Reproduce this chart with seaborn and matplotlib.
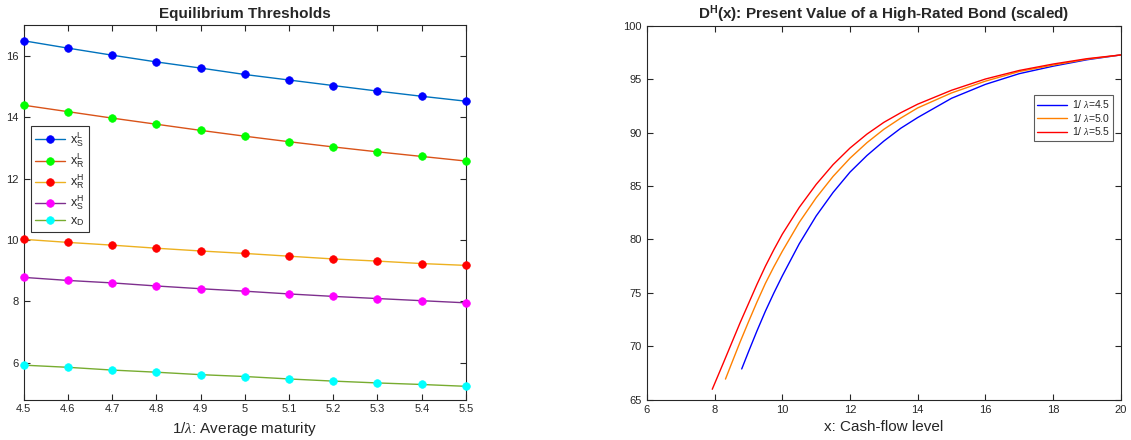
import numpy as np
import pandas as pd
import matplotlib
matplotlib.use("Agg")
import matplotlib.pyplot as plt
import seaborn as sns

# ---------------- data: left panel ----------------
maturity = [4.5, 4.6, 4.7, 4.8, 4.9, 5.0, 5.1, 5.2, 5.3, 5.4, 5.5]
x_S_L = [16.49, 16.25, 16.02, 15.80, 15.60, 15.39, 15.21, 15.03, 14.85, 14.68, 14.52]
x_R_L = [14.39, 14.18, 13.97, 13.77, 13.57, 13.38, 13.20, 13.03, 12.87, 12.72, 12.57]
x_R_H = [10.02, 9.92, 9.83, 9.73, 9.64, 9.56, 9.47, 9.38, 9.31, 9.23, 9.17]
x_S_H = [8.78, 8.68, 8.60, 8.50, 8.41, 8.33, 8.24, 8.16, 8.09, 8.02, 7.95]
x_D = [5.92, 5.85, 5.76, 5.69, 5.61, 5.55, 5.47, 5.40, 5.34, 5.29, 5.23]
left_labels = [r"x$_\mathregular{S}^\mathregular{L}$", r"x$_\mathregular{R}^\mathregular{L}$",
               r"x$_\mathregular{R}^\mathregular{H}$", r"x$_\mathregular{S}^\mathregular{H}$",
               r"x$_\mathregular{D}$"]
left_xticks = [4.5, 4.6, 4.7, 4.8, 4.9, 5.0, 5.1, 5.2, 5.3, 5.4, 5.5]
left_xticklabels = ["4.5", "4.6", "4.7", "4.8", "4.9", "5", "5.1", "5.2", "5.3", "5.4", "5.5"]
left_yticks = [6, 8, 10, 12, 14, 16]

# ---------------- data: right panel ----------------
x_45 = [8.80, 9.0, 9.25, 9.5, 9.75, 10.0, 10.5, 11.0, 11.5, 12.0, 12.5, 13.0, 13.5, 14.0, 15.0, 16.0, 17.0, 18.0, 19.0, 20.0]
d_45 = [67.9, 69.5, 71.45, 73.3, 75.0, 76.6, 79.6, 82.2, 84.4, 86.3, 87.85, 89.2, 90.4, 91.4, 93.2, 94.5, 95.5, 96.2, 96.8, 97.25]
x_50 = [8.32, 8.5, 8.75, 9.0, 9.25, 9.5, 9.75, 10.0, 10.5, 11.0, 11.5, 12.0, 12.5, 13.0, 13.5, 14.0, 15.0, 16.0, 17.0, 18.0, 19.0, 20.0]
d_50 = [66.95, 68.4, 70.4, 72.3, 74.15, 75.9, 77.45, 78.9, 81.6, 83.9, 85.9, 87.6, 89.05, 90.3, 91.35, 92.3, 93.7, 94.8, 95.7, 96.3, 96.85, 97.25]
x_55 = [7.93, 8.25, 8.5, 8.75, 9.0, 9.25, 9.5, 9.75, 10.0, 10.5, 11.0, 11.5, 12.0, 12.5, 13.0, 13.5, 14.0, 15.0, 16.0, 17.0, 18.0, 19.0, 20.0]
d_55 = [66.0, 68.4, 70.3, 72.2, 74.0, 75.8, 77.5, 79.05, 80.5, 83.0, 85.15, 87.0, 88.55, 89.85, 90.95, 91.85, 92.65, 93.95, 95.0, 95.8, 96.4, 96.9, 97.25]
right_labels = [r"1/ $\lambda$=4.5", r"1/ $\lambda$=5.0", r"1/ $\lambda$=5.5"]
right_xticks = [6, 8, 10, 12, 14, 16, 18, 20]
right_yticks = [65, 70, 75, 80, 85, 90, 95, 100]

# ---------------- style ----------------
sns.set_style("white")
plt.rcParams["font.family"] = ["Liberation Sans", "DejaVu Sans"]
plt.rcParams["mathtext.fontset"] = "custom"
plt.rcParams["mathtext.rm"] = "Liberation Sans"
plt.rcParams["mathtext.it"] = "Liberation Serif:italic"
plt.rcParams["mathtext.bf"] = "Liberation Sans:bold"

AX_COLOR = "#262626"
fig = plt.figure(figsize=(11.31, 4.40), dpi=100)
ax1 = fig.add_axes([0.0208, 0.092, 0.3912, 0.851])
ax2 = fig.add_axes([0.572, 0.091, 0.419, 0.851])

line_colors = ["#0072BD", "#D95319", "#EDB120", "#7E2F8E", "#77AC30"]
marker_colors = ["#0000FF", "#00FF00", "#FF0000", "#FF00FF", "#00FFFF"]
series = [x_S_L, x_R_L, x_R_H, x_S_H, x_D]
for ys, lc, mc, lab in zip(series, line_colors, marker_colors, left_labels):
    df = pd.DataFrame({"m": maturity, "v": ys})
    sns.lineplot(data=df, x="m", y="v", ax=ax1, color=lc, linewidth=1.0,
                 marker="o", markersize=5.5, markerfacecolor=mc, markeredgecolor=mc,
                 markeredgewidth=0.5, label=lab, legend=False, clip_on=False, zorder=3)

ax1.set_xlim(4.5, 5.5)
ax1.set_ylim(4.8, 17.0)
ax1.set_xticks(left_xticks)
ax1.set_xticklabels(left_xticklabels)
ax1.set_yticks(left_yticks)
ax1.set_title("Equilibrium Thresholds", fontsize=11, fontweight="bold", pad=5)
ax1.set_xlabel(r"1/$\lambda$: Average maturity", fontsize=11, color=AX_COLOR, labelpad=4)
ax1.set_ylabel("")
h1 = ax1.get_lines()
leg1 = ax1.legend(h1, left_labels, loc="upper left", bbox_to_anchor=(0.017, 0.73),
                  borderaxespad=0, fontsize=9, frameon=True, fancybox=False,
                  handlelength=2.4, handletextpad=0.4, labelspacing=0.24,
                  borderpad=0.35, edgecolor="black")
leg1.get_frame().set_linewidth(0.8)

right_colors = ["#0000FF", "#FF8000", "#FF0000"]
for xs, ds, c, lab in zip([x_45, x_50, x_55], [d_45, d_50, d_55], right_colors, right_labels):
    df = pd.DataFrame({"x": xs, "d": ds})
    sns.lineplot(data=df, x="x", y="d", ax=ax2, color=c, linewidth=1.0, label=lab, legend=False)

ax2.set_xlim(6, 20)
ax2.set_ylim(65, 100)
ax2.set_xticks(right_xticks)
ax2.set_yticks(right_yticks)
ax2.set_title(r"$\mathbf{D^H}$(x): Present Value of a High-Rated Bond (scaled)",
              fontsize=11, fontweight="bold", pad=5)
ax2.set_xlabel("x: Cash-flow level", fontsize=11, color=AX_COLOR, labelpad=4)
ax2.set_ylabel("")
h2 = ax2.get_lines()
leg2 = ax2.legend(h2, right_labels, loc="upper right", bbox_to_anchor=(0.983, 0.814),
                  borderaxespad=0, fontsize=7.5, frameon=True, fancybox=False,
                  handlelength=2.9, handletextpad=0.4, labelspacing=0.15,
                  borderpad=0.3, edgecolor="#333333")
leg2.get_frame().set_linewidth(0.8)

for ax in (ax1, ax2):
    for s in ax.spines.values():
        s.set_visible(True)
        s.set_color(AX_COLOR)
        s.set_linewidth(0.8)
    ax.tick_params(direction="in", length=4, width=0.8, colors=AX_COLOR,
                   labelsize=8, top=True, right=True, bottom=True, left=True,
                   labelcolor=AX_COLOR)
    ax.grid(False)

fig.savefig("out.png", dpi=100)
